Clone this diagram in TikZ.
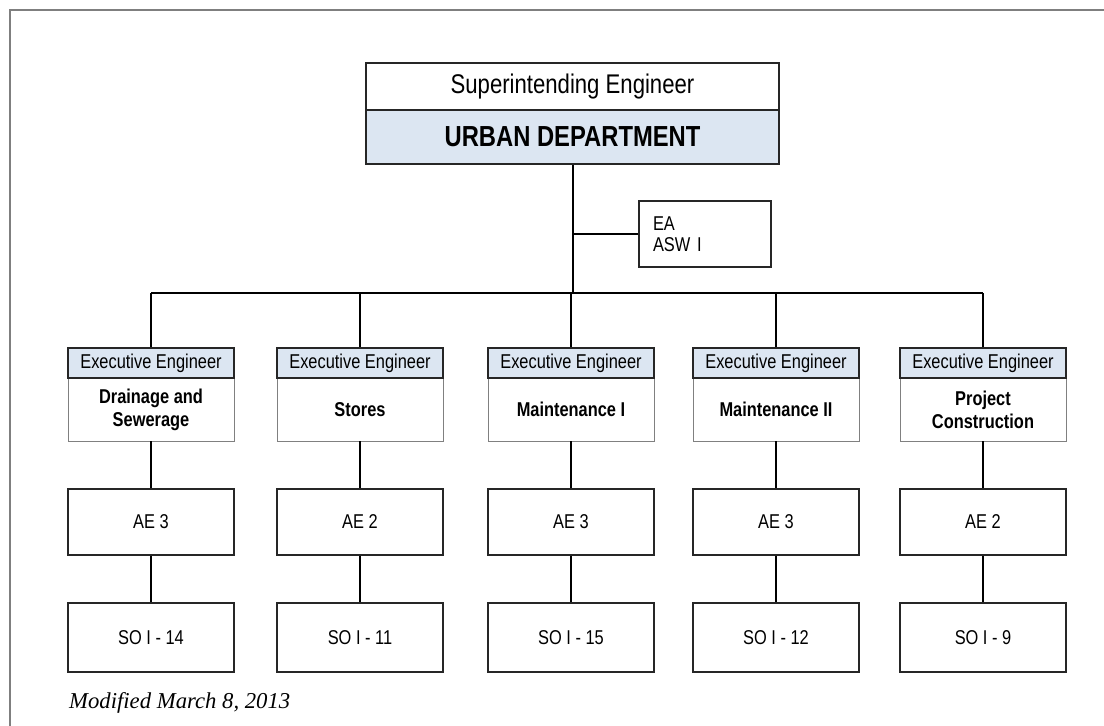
\documentclass[tikz,border=0pt]{standalone}
\usepackage{fontspec}
\setmainfont[FakeStretch=0.82]{Liberation Sans}
\newfontfamily\notefont{Liberation Serif}
\definecolor{hdblue}{HTML}{DCE6F2}
\definecolor{framegray}{HTML}{7F7F7F}
\definecolor{boxline}{HTML}{262626}
\definecolor{bodyline}{HTML}{808080}
\tikzset{
  x=1pt, y=-1pt,
  box/.style={draw=boxline, line width=1.4pt, rectangle, inner sep=0pt, align=center},
  topbox/.style={box, minimum width=413pt},
  hdbox/.style={box, fill=hdblue, minimum width=166pt, minimum height=30pt, font=\fontsize{20}{22}\selectfont},
  bodybox/.style={draw=bodyline, line width=0.9pt, rectangle, fill=white, inner sep=0pt, align=center, minimum width=166pt, minimum height=63pt, font=\fontsize{20}{23}\selectfont\bfseries},
  aebox/.style={box, fill=white, minimum width=166pt, minimum height=66pt, font=\fontsize{20}{22}\selectfont},
  sobox/.style={box, fill=white, minimum width=166pt, minimum height=69pt, font=\fontsize{20}{22}\selectfont},
  conn/.style={draw=black, line width=2pt},
}
\begin{document}
\begin{tikzpicture}
\useasboundingbox (0,0) rectangle (1104,726);
\fill[white] (0,0) rectangle (1104,726);
% frame
\draw[framegray, line width=2pt] (10,726) -- (10,10) -- (1104,10);

% top boxes
\node[topbox, fill=white, minimum height=47pt, font=\fontsize{27}{29}\selectfont] (se) at (572.5,86.5) {Superintending Engineer};
\node[topbox, fill=hdblue, minimum height=54pt, font=\fontsize{29}{31}\selectfont\bfseries] (ud) at (572.5,137) {URBAN DEPARTMENT};

% EA box
\node[box, fill=white, minimum width=132pt, minimum height=66pt, text width=104pt, align=left, inner xsep=14pt, font=\fontsize{20}{21}\selectfont] (ea) at (705,234) {EA\\ASW I};

% bus
\coordinate (busL) at (151,293);
\coordinate (busR) at (983,293);
\draw[conn] (ud.south) -- (ud.south |- busL);
\draw[conn] (busL) -- (busR);
\draw[conn] (ea.west) -- (ea.west -| ud.south);

% columns
\foreach \n/\c/\lab/\ae/\so in {1/151/{Drainage and\\Sewerage}/AE 3/SO I - 14,
                              2/360/Stores/AE 2/SO I - 11,
                              3/571/Maintenance I/AE 3/SO I - 15,
                              4/776/Maintenance II/AE 3/SO I - 12,
                              5/983/{Project\\Construction}/AE 2/SO I - 9}{
  \node[bodybox] (bd\n) at (\c,409.5) {\lab};
  \node[hdbox] (hd\n) at (\c,363) {Executive Engineer};
  \node[aebox] (ae\n) at (\c,522) {\ae};
  \node[sobox] (so\n) at (\c,637.5) {\so};
  \draw[conn] (hd\n.north |- busL) -- (hd\n.north);
  \draw[conn] (bd\n.south) -- (ae\n.north);
  \draw[conn] (ae\n.south) -- (so\n.north);
}

% note
\node[anchor=west, inner sep=0pt, font=\notefont\itshape\fontsize{22.7}{24}\selectfont] (note) at (69,703) {Modified March 8, 2013};
\end{tikzpicture}
\end{document}
